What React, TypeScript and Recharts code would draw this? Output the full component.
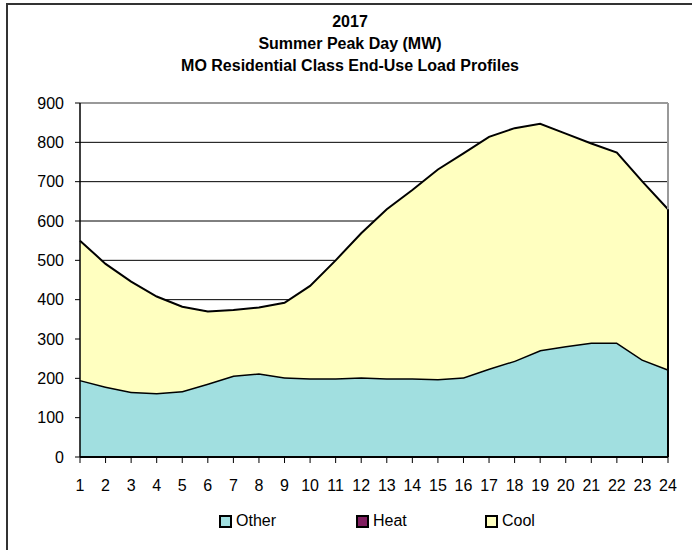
import { AreaChart, Area, XAxis, YAxis, CartesianGrid, ReferenceLine } from 'recharts'

const hours = ['1', '2', '3', '4', '5', '6', '7', '8', '9', '10', '11', '12', '13', '14', '15', '16', '17', '18', '19', '20', '21', '22', '23', '24']
const other = [196, 179, 166, 163, 168, 187, 207, 213, 203, 200, 200, 203, 200, 200, 198, 203, 225, 245, 272, 282, 291, 291, 248, 223]
const heat = [0, 0, 0, 0, 0, 0, 0, 0, 0, 0, 0, 0, 0, 0, 0, 0, 0, 0, 0, 0, 0, 0, 0, 0]
const cool = [354, 312, 280, 245, 214, 183, 167, 167, 189, 235, 300, 366, 430, 479, 533, 569, 589, 591, 575, 540, 506, 483, 452, 407]
const yTicks = [0, 100, 200, 300, 400, 500, 600, 700, 800, 900]

const titleLines = ['2017', 'Summer Peak Day (MW)', 'MO Residential Class End-Use Load Profiles']

const series = [
  { key: 'Other', color: '#A1DFE0', left: 219 },
  { key: 'Heat', color: '#801F60', left: 356 },
  { key: 'Cool', color: '#FFFFC0', left: 485 },
]

const data = hours.map((h, i) => ({ hour: h, Other: other[i], Heat: heat[i], Cool: cool[i] }))
const last = data.length - 1
const lastTotal = other[last] + heat[last] + cool[last]

const font = '"Liberation Sans", Arial, sans-serif'

export default function App() {
  return (
    <div style={{ position: 'absolute', left: 0, top: 0, width: 692, height: 550, background: '#fff', fontFamily: font }}>
      {/* outer frame, only top and left edges show */}
      <div style={{ position: 'absolute', left: 6, top: 3, right: 0, bottom: 0, borderTop: '2px solid #333', borderLeft: '2px solid #333' }} />
      {titleLines.map((t, i) => (
        <div
          key={t}
          style={{ position: 'absolute', left: 0, width: 700, top: 13 + i * 22, textAlign: 'center', fontWeight: 'bold', fontSize: 16, color: '#000' }}
        >
          {t}
        </div>
      ))}
      <AreaChart width={692} height={550} data={data} margin={{ top: 103, right: 24, left: 0, bottom: 63 }} style={{ position: 'absolute', left: 0, top: 0 }}>
        <CartesianGrid vertical={false} stroke="#000" />
        <XAxis
          dataKey="hour"
          interval={0}
          height={30}
          tickSize={6}
          tickMargin={17}
          axisLine={{ stroke: '#000', strokeWidth: 2 }}
          tickLine={{ stroke: '#000' }}
          tick={{ fill: '#000', fontSize: 16, fontFamily: font }}
        />
        <YAxis
          width={80}
          domain={[0, 900]}
          ticks={yTicks}
          tickSize={5}
          tickMargin={11}
          axisLine={{ stroke: '#000', strokeWidth: 1.5 }}
          tickLine={{ stroke: '#000' }}
          tick={{ fill: '#000', fontSize: 16, fontFamily: font }}
        />
        <ReferenceLine y={900} stroke="#999" strokeWidth={2} />
        <ReferenceLine x="24" stroke="#999" strokeWidth={2} />
        <Area type="linear" dataKey="Other" stackId="a" fill="#A1DFE0" fillOpacity={1} stroke="#000" strokeWidth={3} isAnimationActive={false} />
        <Area type="linear" dataKey="Heat" stackId="a" fill="#801F60" fillOpacity={1} stroke="none" isAnimationActive={false} />
        <Area type="linear" dataKey="Cool" stackId="a" fill="#FFFFC0" fillOpacity={1} stroke="#000" strokeWidth={2} isAnimationActive={false} />
        <ReferenceLine segment={[{ x: '24', y: 0 }, { x: '24', y: lastTotal }]} stroke="#000" strokeWidth={2} />
      </AreaChart>
      {series.map((s) => (
        <div key={s.key} style={{ position: 'absolute', top: 512, left: s.left, display: 'flex', alignItems: 'center', fontSize: 16, color: '#000' }}>
          <span style={{ display: 'inline-block', width: 9, height: 9, background: s.color, border: '2px solid #000', marginRight: 4 }} />
          {s.key}
        </div>
      ))}
    </div>
  )
}
